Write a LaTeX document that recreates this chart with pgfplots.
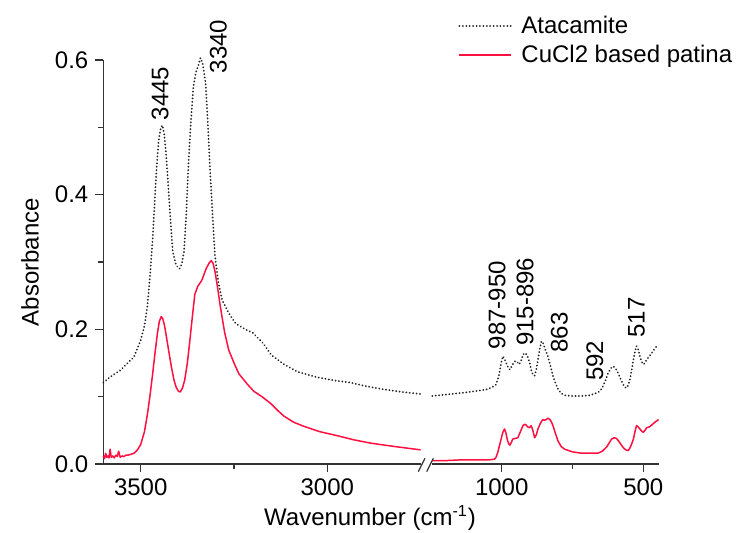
\documentclass[border=0pt]{standalone}
\usepackage{fontspec}
\setmainfont{Liberation Sans}
\usepackage{pgfplots}
\pgfplotsset{compat=1.18}
\definecolor{patinared}{HTML}{FF1040}
\definecolor{axisgray}{HTML}{333333}
\definecolor{dotgray}{HTML}{222222}

\newcommand{\chartfont}{\fontsize{12}{14}\selectfont}

\pgfplotsset{
  spectrum/.style={
    scale only axis, height=202pt, ymin=0, ymax=0.6, clip=false,
    x dir=reverse,
    axis x line*=bottom,
    axis line style={axisgray, line width=0.6pt},
    every tick/.style={axisgray, line width=0.6pt},
    tick align=outside,
    major tick length=4pt, minor tick length=2.5pt,
    tick label style={font=\chartfont},
    label style={font=\chartfont},
    /pgf/number format/assume math mode=true,
    /pgf/number format/1000 sep={},
  },
}
\tikzset{
  peak/.style={rotate=90, anchor=west, inner sep=0pt, font=\chartfont},
}

\begin{document}
\begin{tikzpicture}
\useasboundingbox (0,0) rectangle (371pt,266.5pt);

% high wavenumber part
\begin{axis}[spectrum,
  at={(51.7pt,34.5pt)}, anchor=south west, width=158.6pt,
  xmin=2750, xmax=3600,
  axis y line*=left,
  xtick={3500,3000}, minor xtick={3250},
  ytick={0,0.2,0.4,0.6}, minor ytick={0.1,0.3,0.5},
  yticklabel style={/pgf/number format/.cd, fixed, fixed zerofill, precision=1},
  xlabel={Wavenumber (cm\textsuperscript{-1})},
  x label style={at={(rel axis cs:0.8405,-0.151)}, anchor=base},
  ylabel={Absorbance},
  y label style={at={(rel axis cs:-0.2314,0.5)}, anchor=center},
  legend style={at={(rel axis cs:1.118,1.12)}, anchor=north west, draw=none, fill=none,
    inner sep=0pt, font=\chartfont, nodes={inner ysep=2.1pt}, cells={anchor=west}},
  legend image code/.code={\draw[#1] (0pt,0pt) -- (26pt,0pt); \path (28.5pt,0pt);},
]
\addplot[color=dotgray, line width=1pt, line cap=round, dash pattern=on 0.01pt off 1.7pt] coordinates {
(3600,0.121) (3580,0.130) (3555,0.139) (3535,0.150) (3518,0.159) (3500,0.184)
(3490,0.205) (3482,0.235) (3475,0.280) (3468,0.334) (3462,0.395) (3458,0.435)
(3452,0.480) (3446,0.500) (3442,0.503) (3437,0.490) (3432,0.460) (3427,0.420)
(3423,0.385) (3418,0.345) (3414,0.315) (3405,0.295) (3396,0.290) (3390,0.297)
(3384,0.315) (3378,0.370) (3373,0.435) (3366,0.505) (3359,0.560) (3352,0.582)
(3345,0.593) (3340,0.603) (3334,0.595) (3326,0.565) (3320,0.505) (3314,0.435)
(3307,0.365) (3301,0.309) (3292,0.270) (3282,0.244) (3265,0.225) (3246,0.209)
(3220,0.200) (3200,0.195) (3173,0.180) (3150,0.162) (3119,0.149) (3080,0.137)
(3029,0.129) (2980,0.124) (2939,0.121) (2900,0.116) (2851,0.111) (2800,0.107)
(2750,0.104)
};
\addlegendentry{Atacamite}
\addplot[color=patinared, line width=0.75pt, line join=round] coordinates {
(3600,0.012) (3597,0.008) (3594,0.016) (3591,0.010) (3588,0.012) (3585,0.009)
(3582,0.022) (3579,0.010) (3575,0.012) (3571,0.009) (3567,0.013) (3563,0.011)
(3559,0.019) (3555,0.010) (3550,0.012) (3545,0.011) (3540,0.013) (3535,0.013)
(3528,0.014) (3518,0.016) (3510,0.020) (3500,0.029) (3490,0.048) (3482,0.074)
(3475,0.102) (3468,0.134) (3461,0.168) (3455,0.195) (3450,0.212) (3445,0.219)
(3441,0.216) (3436,0.205) (3432,0.192) (3425,0.168) (3418,0.145) (3411,0.125)
(3405,0.114) (3399,0.108) (3394,0.107) (3388,0.113) (3382,0.125) (3375,0.150)
(3368,0.185) (3361,0.222) (3355,0.252) (3347,0.264) (3337,0.272) (3330,0.282)
(3324,0.291) (3316,0.299) (3311,0.302) (3306,0.298) (3301,0.286) (3294,0.262)
(3287,0.235) (3275,0.195) (3264,0.169) (3250,0.150) (3237,0.134) (3215,0.119)
(3197,0.108) (3175,0.100) (3152,0.090) (3130,0.078) (3116,0.071) (3090,0.062)
(3063,0.056) (3020,0.048) (2973,0.042) (2930,0.036) (2884,0.031) (2820,0.026)
(2750,0.021)
};
\addlegendentry{CuCl2 based patina}
\node[peak] at (axis cs:3448,0.510) {3445};
\node[peak] at (axis cs:3292,0.580) {3340};
\end{axis}

% fingerprint part
\begin{axis}[spectrum,
  at={(216.15pt,34.5pt)}, anchor=south west, width=113.3pt,
  xmin=445, xmax=1245,
  axis y line=none,
  xtick={1000,500}, minor xtick={750},
]
\addplot[color=dotgray, line width=1pt, line cap=round, dash pattern=on 0.01pt off 1.7pt] coordinates {
(1245,0.101) (1200,0.103) (1132,0.106) (1080,0.109) (1050,0.111) (1030,0.115)
(1020,0.118) (1012,0.128) (1008,0.135) (1002,0.150) (996,0.160) (990,0.156)
(984,0.150) (977,0.143) (971,0.140) (966,0.144) (961,0.148) (955,0.152)
(950,0.153) (944,0.151) (938,0.148) (930,0.155) (925,0.162) (919,0.165)
(913,0.163) (907,0.158) (901,0.150) (896,0.140) (890,0.133) (884,0.131)
(878,0.140) (872,0.155) (866,0.170) (860,0.182) (855,0.181) (848,0.172)
(837,0.160) (828,0.146) (819,0.131) (810,0.120) (801,0.111) (790,0.105)
(778,0.102) (750,0.101) (719,0.101) (690,0.102) (660,0.106) (650,0.110)
(642,0.116) (633,0.125) (624,0.135) (615,0.142) (606,0.145) (598,0.142)
(589,0.135) (580,0.126) (571,0.118) (565,0.114) (559,0.113) (553,0.117)
(547,0.126) (541,0.140) (535,0.155) (529,0.168) (524,0.175) (518,0.170)
(512,0.160) (506,0.152) (500,0.148) (494,0.150) (488,0.155) (479,0.160)
(470,0.165) (462,0.170) (453,0.175) (446,0.176)
};
\addplot[color=patinared, line width=0.75pt, line join=round] coordinates {
(1245,0.005) (1200,0.005) (1150,0.006) (1100,0.006) (1050,0.006) (1026,0.007)
(1020,0.010) (1014,0.017) (1008,0.027) (1002,0.037) (996,0.047) (990,0.052)
(985,0.046) (979,0.034) (975,0.030) (971,0.028) (966,0.032) (961,0.037)
(952,0.038) (943,0.039) (934,0.048) (925,0.057) (919,0.059) (914,0.058)
(908,0.055) (902,0.054) (896,0.057) (890,0.050) (884,0.039) (878,0.043)
(872,0.052) (864,0.060) (855,0.066) (849,0.065) (843,0.066) (837,0.068)
(831,0.0665) (825,0.063) (819,0.057) (810,0.045) (801,0.034) (790,0.026)
(778,0.022) (750,0.018) (719,0.016) (690,0.016) (660,0.016) (645,0.019)
(630,0.025) (621,0.031) (612,0.037) (603,0.039) (595,0.038) (587,0.034)
(579,0.029) (570,0.024) (562,0.021) (553,0.020) (547,0.024) (541,0.030)
(535,0.037) (529,0.049) (524,0.057) (518,0.055) (512,0.052) (506,0.049)
(500,0.047) (494,0.050) (488,0.054) (479,0.055) (470,0.058) (462,0.061)
(453,0.064) (446,0.066)
};
\node[peak] at (axis cs:1016,0.170) {987-950};
\node[peak] at (axis cs:917,0.175) {915-896};
\node[peak] at (axis cs:796,0.165) {863};
\node[peak] at (axis cs:671,0.123) {592};
\node[peak] at (axis cs:524,0.187) {517};
\end{axis}

% axis break marks
\draw[axisgray, line width=0.6pt] (209.15pt,30.65pt) -- (212.5pt,37.35pt);
\draw[axisgray, line width=0.6pt] (213.35pt,30.65pt) -- (216.65pt,37.35pt);
\end{tikzpicture}
\end{document}
